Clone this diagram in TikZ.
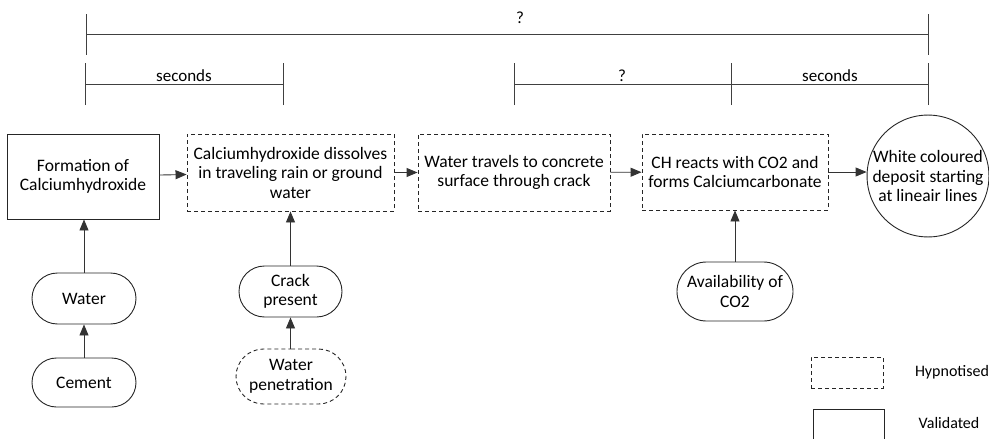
\documentclass[tikz,border=0pt]{standalone}
\usepackage{fontspec}
\setmainfont{Carlito}
\usetikzlibrary{arrows.meta,shapes.misc}

\tikzset{
  every node/.style={font=\fontsize{17.5}{19.5}\selectfont, inner sep=0pt},
  stepbox/.style={draw=black!85, line width=0.9pt, rectangle, align=center},
  hypo/.style={dash pattern=on 4pt off 3pt},
  cause/.style={draw=black!85, line width=0.9pt, rounded rectangle, align=center},
  outcome/.style={draw=black!85, line width=0.9pt, circle, align=center},
  flow/.style={draw=black!80, line width=0.9pt, -{Triangle[length=11pt,width=9pt]}},
  span/.style={draw=black!75, line width=0.9pt},
  spanlabel/.style={font=\fontsize{17}{19}\selectfont},
  legendtext/.style={font=\fontsize{16}{18}\selectfont}
}

\begin{document}
\begin{tikzpicture}[x=1pt, y=-1pt]
  \useasboundingbox (0,0) rectangle (989,439);

  % process chain
  \node[stepbox, minimum width=152pt, minimum height=85pt] (f1) at (83,176.5)
    {Formation of\\Calciumhydroxide};
  \node[stepbox, hypo, minimum width=207pt, minimum height=77pt] (f2) at (290.5,172.5)
    {Calciumhydroxide dissolves\\in traveling rain or ground\\water};
  \node[stepbox, hypo, minimum width=192pt, minimum height=77pt] (f3) at (514,172.5)
    {Water travels to concrete\\surface through crack};
  \node[stepbox, hypo, minimum width=186pt, minimum height=76pt] (f4) at (735,172)
    {CH reacts with CO2 and\\forms Calciumcarbonate};
  \node[outcome, minimum size=118pt] (res) at (928,176)
    {White coloured\\deposit starting\\at lineair lines};

  % contributing conditions
  \node[cause, minimum width=104pt, minimum height=51pt] (water) at (84,298.5) {Water};
  \node[cause, minimum width=104pt, minimum height=49pt] (cement) at (84,382.5) {Cement};
  \node[cause, minimum width=103pt, minimum height=51pt] (crack) at (290.5,291.5) {Crack\\present};
  \node[cause, hypo, minimum width=110pt, minimum height=55pt] (wpen) at (291,376.5) {Water\\penetration};
  \node[cause, minimum width=116pt, minimum height=59pt] (co2) at (735,291.5) {Availability of\\CO2};

  % connectors
  \draw[flow] (f1) -- (f2);
  \draw[flow] (f2) -- (f3);
  \draw[flow] (f3) -- (f4);
  \draw[flow] (f4.east) -- (f4.east -| res.west);
  \draw[flow] (water.north) -- (f1.south -| water.north);
  \draw[flow] (cement.north) -- (water.south);
  \draw[flow] (crack.north) -- (f2.south -| crack.north);
  \draw[flow] (wpen.north -| crack.south) -- (crack.south);
  \draw[flow] (co2.north) -- (f4.south);

  % time spans
  \coordinate (tA) at (86,34);
  \coordinate (tB) at (928,34);
  \draw[span] (tA) -- (tB);
  \draw[span] (86,14) -- (86,55);
  \draw[span] (928,14) -- (928,55);
  \node[spanlabel] (qtot) at (520,18) {?};

  \coordinate (s1) at (85,84);
  \coordinate (s2) at (283,84);
  \coordinate (s3) at (514,84);
  \coordinate (s4) at (731,84);
  \coordinate (s5) at (928,84);
  \draw[span] (s1) -- (s2);
  \draw[span] (s3) -- (s5);
  \foreach \p in {s1,s2,s3,s4,s5}
    \draw[span] ([yshift=-21pt]\p) -- ([yshift=21pt]\p);
  \node[spanlabel] (sec1) at (184,76) {seconds};
  \node[spanlabel] (q2) at (622,76) {?};
  \node[spanlabel] (sec2) at (830,76) {seconds};

  % legend
  \node[stepbox, hypo, minimum width=72pt, minimum height=31pt] (lh) at (847,372.5) {};
  \node[legendtext] (lht) at (952,372) {Hypnotised};
  \draw[draw=black!85, line width=0.9pt] (813,450) -- (813,409) -- (884,409) -- (884,450);
  \node[legendtext] (lvt) at (949,423) {Validated};
\end{tikzpicture}
\end{document}
